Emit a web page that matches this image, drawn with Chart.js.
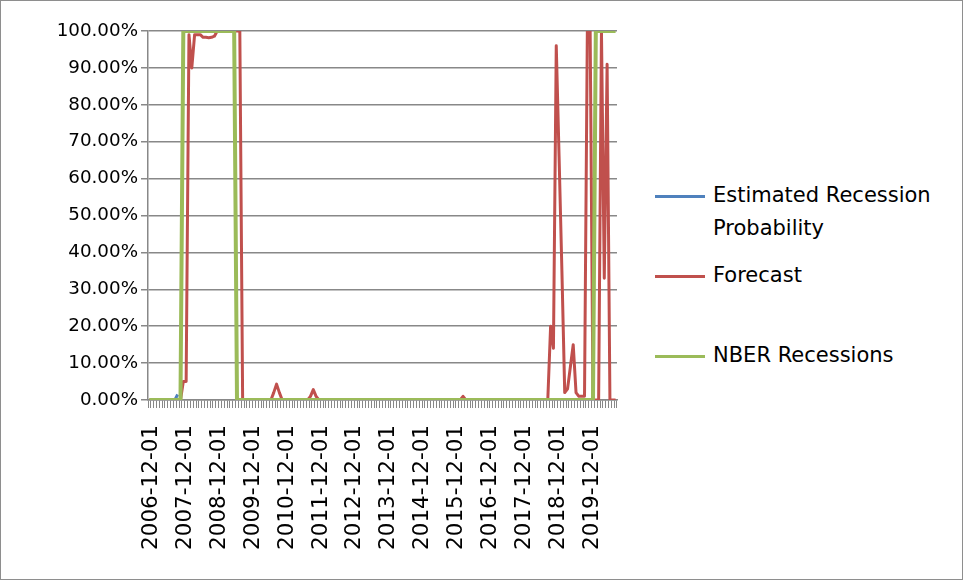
<!DOCTYPE html>
<html lang="en">
<head>
  <meta charset="UTF-8" />
  <title>Recession Probability</title>
  <script src="https://cdn.jsdelivr.net/npm/chart.js"></script>
  <style>
    body {
      margin: 0;
      background: #fff;
      font-family: 'DejaVu Sans', sans-serif;
      color: #000;
    }
    .frame {
      position: relative;
      width: 961px;
      height: 578px;
      border: 1px solid #8e8e8e;
      overflow: hidden;
    }
    .chart-box {
      position: absolute;
      left: 0;
      top: 0;
      width: 640px;
      height: 578px;
    }
    .legend .item {
      position: absolute;
      left: 654px;
      font-size: 21px;
      line-height: 33px;
      white-space: nowrap;
    }
    .legend .swatch {
      position: absolute;
      left: 0;
      top: 16px;
      width: 50px;
      height: 3px;
    }
    .legend .label {
      display: block;
      margin-left: 58px;
    }
  </style>
</head>
<body>
  <div class="frame">
    <div class="chart-box">
      <canvas id="recChart"></canvas>
    </div>
    <div class="legend">
      <div class="item" style="top:178px">
        <span class="swatch" style="background:#4F81BD"></span>
        <span class="label">Estimated Recession<br>Probability</span>
      </div>
      <div class="item" style="top:258px">
        <span class="swatch" style="background:#C0504D"></span>
        <span class="label">Forecast</span>
      </div>
      <div class="item" style="top:338px">
        <span class="swatch" style="background:#9BBB59"></span>
        <span class="label">NBER Recessions</span>
      </div>
    </div>
  </div>

<script>
  // monthly categories, 2006-12-01 .. 2020-09-01
  const months = [];
  for (let k = 0; k < 166; k++) {
    const y = 2006 + Math.floor((11 + k) / 12);
    const m = ((11 + k) % 12) + 1;
    months.push(`${y}-${String(m).padStart(2, '0')}-01`);
  }

  // values in percent, one row per Dec..Nov year
  const estimated = [0, 0, 0, 0, 0, 0, 0, 0, 0, 0, 1.5];

  const forecast = [
    0, 0, 0, 0, 0, 0, 0, 0, 0, 0, 0, 0,
    5, 5, 99, 90, 99, 99, 99, 98.3, 98.3, 98.2, 98.3, 98.6,
    100, 100, 100, 100, 100, 100, 100, 100, 100, 0, 0, 0,
    0, 0, 0, 0, 0, 0, 0, 0, 2, 4.3, 2, 0,
    0, 0, 0, 0, 0, 0, 0, 0, 0, 1, 2.8, 1,
    0, 0, 0, 0, 0, 0, 0, 0, 0, 0, 0, 0,
    0, 0, 0, 0, 0, 0, 0, 0, 0, 0, 0, 0,
    0, 0, 0, 0, 0, 0, 0, 0, 0, 0, 0, 0,
    0, 0, 0, 0, 0, 0, 0, 0, 0, 0, 0, 0,
    0, 0, 0, 1, 0, 0, 0, 0, 0, 0, 0, 0,
    0, 0, 0, 0, 0, 0, 0, 0, 0, 0, 0, 0,
    0, 0, 0, 0, 0, 0, 0, 0, 0, 0, 20, 14,
    96, 66, 35, 2, 3, 9, 15, 2, 1, 1, 1, 100,
    100, 0, 0, 0, 100, 33, 91, 0, 0, 0
  ];

  const nber = [
    0, 0, 0, 0, 0, 0, 0, 0, 0, 0, 0, 0,
    100, 100, 100, 100, 100, 100, 100, 100, 100, 100, 100, 100,
    100, 100, 100, 100, 100, 100, 100, 0, 0, 0, 0, 0,
    0, 0, 0, 0, 0, 0, 0, 0, 0, 0, 0, 0,
    0, 0, 0, 0, 0, 0, 0, 0, 0, 0, 0, 0,
    0, 0, 0, 0, 0, 0, 0, 0, 0, 0, 0, 0,
    0, 0, 0, 0, 0, 0, 0, 0, 0, 0, 0, 0,
    0, 0, 0, 0, 0, 0, 0, 0, 0, 0, 0, 0,
    0, 0, 0, 0, 0, 0, 0, 0, 0, 0, 0, 0,
    0, 0, 0, 0, 0, 0, 0, 0, 0, 0, 0, 0,
    0, 0, 0, 0, 0, 0, 0, 0, 0, 0, 0, 0,
    0, 0, 0, 0, 0, 0, 0, 0, 0, 0, 0, 0,
    0, 0, 0, 0, 0, 0, 0, 0, 0, 0, 0, 0,
    0, 0, 100, 100, 100, 100, 100, 100, 100, 100
  ];

  const gridGray = '#888888';
  const family = "'DejaVu Sans', sans-serif";

  const lineStyle = {
    pointRadius: 0,
    tension: 0,
    fill: false,
    borderJoinStyle: 'round',
    borderCapStyle: 'butt'
  };

  const ctx = document.getElementById('recChart').getContext('2d');
  new Chart(ctx, {
    type: 'line',
    data: {
      labels: months,
      datasets: [
        { ...lineStyle, label: 'Estimated Recession Probability', data: estimated,
          borderColor: '#4F81BD', borderWidth: 3, order: 3 },
        { ...lineStyle, label: 'Forecast', data: forecast,
          borderColor: '#C0504D', borderWidth: 3, order: 2 },
        { ...lineStyle, label: 'NBER Recessions', data: nber,
          borderColor: '#9BBB59', borderWidth: 4, order: 1 }
      ]
    },
    options: {
      responsive: true,
      maintainAspectRatio: false,
      animation: false,
      layout: { padding: { left: 0, top: 30, right: 24, bottom: 0 } },
      plugins: {
        legend: { display: false },
        tooltip: { enabled: false }
      },
      scales: {
        x: {
          offset: true,
          grid: {
            offset: true,
            drawOnChartArea: false,
            drawTicks: true,
            tickLength: 8,
            color: gridGray
          },
          border: { display: true, color: gridGray, width: 1.5 },
          ticks: {
            autoSkip: false,
            maxRotation: 90,
            minRotation: 90,
            padding: 17,
            labelOffset: 2,
            color: '#000',
            font: { family: family, size: 21.5 },
            callback: (v, i) => (i % 12 === 0 ? months[i] : '')
          },
          afterFit: scale => {
            scale.height = 179;
            scale.paddingLeft = 0;
            scale.paddingRight = 0;
          }
        },
        y: {
          min: 0,
          max: 100,
          grid: { color: gridGray, lineWidth: 1.5, tickLength: 7 },
          border: { display: true, color: gridGray, width: 1.5 },
          ticks: {
            stepSize: 10,
            padding: 3,
            color: '#000',
            font: { family: family, size: 18.3 },
            callback: v => v.toFixed(2) + '%'
          },
          afterFit: scale => { scale.width = 147; }
        }
      }
    }
  });
</script>
</body>
</html>
